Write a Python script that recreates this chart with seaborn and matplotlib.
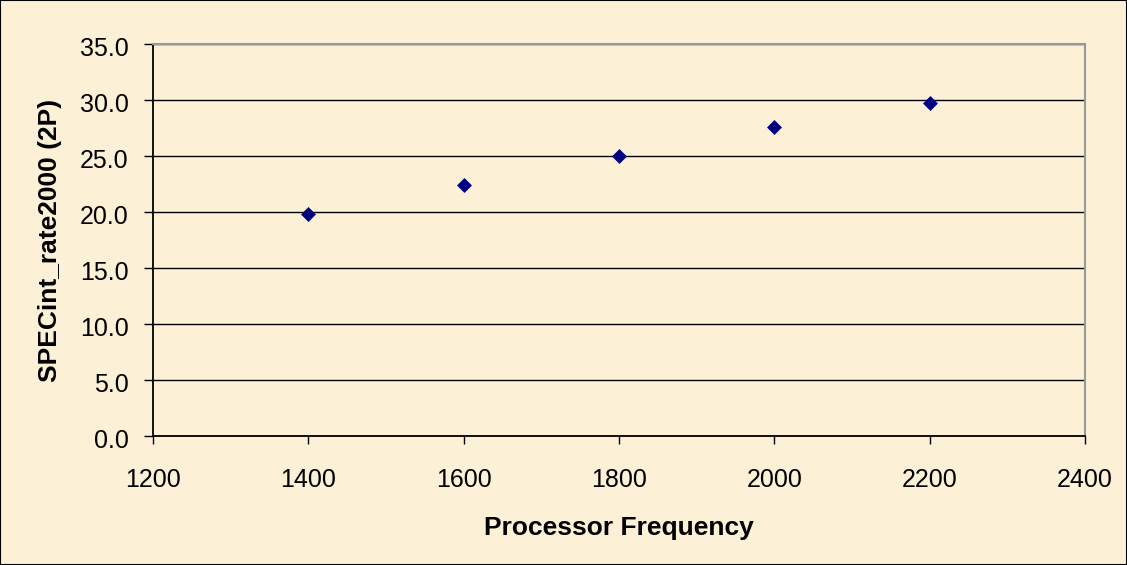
import matplotlib
matplotlib.use("Agg")
import matplotlib.pyplot as plt
import matplotlib.transforms as mtransforms
import seaborn as sns
import pandas as pd
from matplotlib.ticker import FormatStrFormatter, MultipleLocator
from matplotlib.patches import Rectangle

frequency = [1400, 1600, 1800, 2000, 2200]
specint_rate = [19.8, 22.4, 25.0, 27.6, 29.7]

df = pd.DataFrame({"Processor Frequency": frequency, "SPECint_rate2000 (2P)": specint_rate})

sns.set_theme(style="white")
plt.rcParams['font.family'] = ['Liberation Sans', 'DejaVu Sans']
plt.rcParams['text.color'] = 'black'
plt.rcParams['axes.labelcolor'] = 'black'

bg = "#FCF0D7"
fig = plt.figure(figsize=(11.27, 5.65), dpi=100, facecolor=bg)
ax = fig.add_axes([153/1127, 1 - 436/565, (1085 - 153)/1127, (436 - 44)/565])
ax.set_facecolor(bg)

sns.scatterplot(data=df, x="Processor Frequency", y="SPECint_rate2000 (2P)", ax=ax,
                marker="D", s=58, color="#000080", linewidth=0, zorder=3)

ax.set_xlim(1200, 2400)
ax.set_ylim(0, 35)
ax.xaxis.set_major_locator(MultipleLocator(200))
ax.yaxis.set_major_locator(MultipleLocator(5))
ax.yaxis.set_major_formatter(FormatStrFormatter("%.1f"))

ax.grid(axis="y", color="black", linewidth=1.0)
ax.grid(axis="x", visible=False)
ax.set_axisbelow(True)

for side in ["left", "bottom"]:
    ax.spines[side].set_color("black")
    ax.spines[side].set_linewidth(1.3)
for side in ["top", "right"]:
    ax.spines[side].set_color("#999999")
    ax.spines[side].set_linewidth(1.5)

ax.tick_params(axis="both", which="major", direction="out", width=1,
               color="black", labelsize=18, labelcolor="black", left=True, bottom=True)
ax.tick_params(axis="x", length=6, pad=17)
ax.tick_params(axis="y", length=6.5, pad=11)

offset = mtransforms.ScaledTranslation(0, -2/100, fig.dpi_scale_trans)
for lab in ax.get_yticklabels():
    lab.set_transform(lab.get_transform() + offset)

ax.set_xlabel("Processor Frequency", fontsize=19, fontweight="bold", va="center", color="black")
ax.set_ylabel("SPECint_rate2000 (2P)", fontsize=19, fontweight="bold", va="center", color="black")
ax.xaxis.set_label_coords(0.5, (436 - 528) / 392)
ax.yaxis.set_label_coords((50 - 153) / 932, 0.5)

fig.patches.append(Rectangle((0, 0), 1, 1, transform=fig.transFigure, fill=False,
                             edgecolor="black", linewidth=1.5, zorder=10))

fig.savefig("out.png", dpi=100, facecolor=bg)
